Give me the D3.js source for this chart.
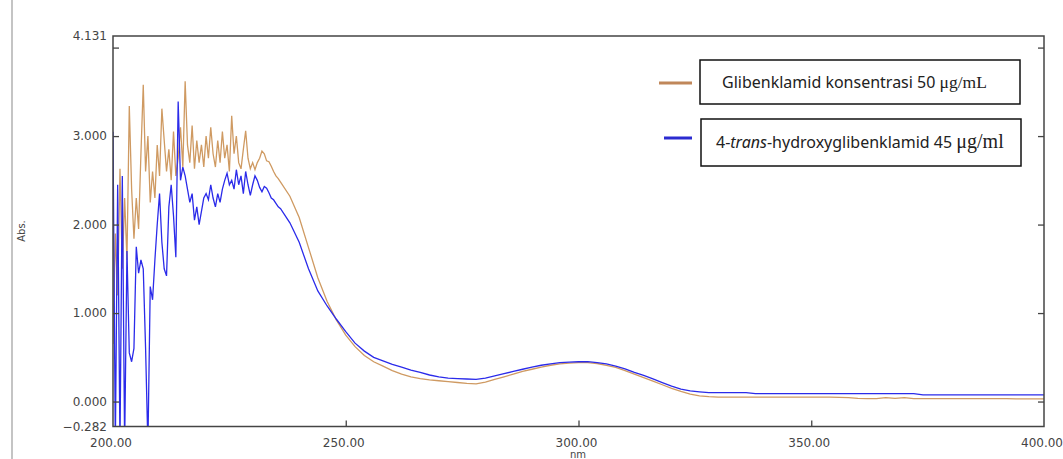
<!DOCTYPE html>
<html>
<head>
<meta charset="utf-8">
<script src="https://cdn.jsdelivr.net/npm/d3@7"></script>
<style>
  body { margin: 0; background: #fff; }
  svg { display: block; }
  .tick-label { font-family: 'DejaVu Sans', Verdana, sans-serif; font-size: 12px; fill: #444; }
  .legend-text { font-family: 'Noto Sans', 'Open Sans', sans-serif; font-size: 16px; fill: #222; }
  .legend-unit { font-family: 'Liberation Serif', 'DejaVu Serif', serif; }
</style>
</head>
<body>
<div id="chart"></div>
<script>
// scan grid: fine steps in the noisy UV end, coarse after
const nmFine = d3.range(200, 236, 0.5)
const nmCoarse = d3.range(236, 402, 2)

// Glibenklamid 50 µg/mL
const glibFine = [
  0.65, 1.9, 1.2, 2.63, 1.5, 2.3, 1.6, 3.34, 2.4, 1.84,
  2.3, 1.95, 2.8, 3.58, 2.6, 3.0, 2.25, 2.6, 2.3, 2.9,
  2.55, 3.31, 2.95, 2.6, 2.85, 2.5, 3.05, 2.55, 2.75, 3.1,
  2.65, 3.62, 2.9, 2.7, 3.12, 2.63, 2.95, 2.7, 2.9, 2.65,
  3.0, 2.75, 3.1, 2.8, 2.65, 2.95, 2.7, 3.05, 2.75, 2.9,
  2.6, 3.23, 2.8, 3.0, 2.7, 2.63, 2.85, 3.06, 2.75, 2.63,
  2.7, 2.62, 2.7, 2.75, 2.83, 2.8, 2.72, 2.71, 2.66, 2.6,
  2.55, 2.52
]
const glibCoarse = [
  2.48, 2.32, 2.08, 1.74, 1.40, 1.13, 0.92, 0.75, 0.62, 0.52,
  0.45, 0.40, 0.35, 0.31, 0.28, 0.26, 0.245, 0.235, 0.225, 0.215,
  0.205, 0.20, 0.22, 0.25, 0.28, 0.31, 0.34, 0.365, 0.39, 0.41,
  0.425, 0.435, 0.44, 0.44, 0.43, 0.41, 0.385, 0.35, 0.31, 0.27,
  0.23, 0.19, 0.15, 0.115, 0.085, 0.065, 0.055, 0.05, 0.05, 0.05,
  0.05, 0.05, 0.05, 0.05, 0.05, 0.05, 0.05, 0.05, 0.05, 0.05,
  0.048, 0.045, 0.035, 0.032, 0.032, 0.045, 0.035, 0.045, 0.032, 0.032,
  0.032, 0.032, 0.032, 0.032, 0.032, 0.032, 0.032, 0.032, 0.032, 0.03,
  0.03, 0.03, 0.03
]

// 4-trans-hydroxyglibenklamid 45 µg/ml
const hydroxyFine = [
  3.05, -0.5, 2.45, -0.5, 2.55, -0.5, 1.7, 0.55, 0.45, 0.6,
  1.75, 1.45, 1.6, 1.5, 0.6, -0.5, 1.3, 1.15, 1.6, 2.0,
  2.35, 1.8, 1.5, 1.42, 2.2, 2.45, 2.1, 1.63, 3.39, 2.5,
  2.65, 2.55, 2.4, 2.25, 2.35, 2.05, 2.2, 2.0, 2.15, 2.3,
  2.35, 2.28, 2.45, 2.3, 2.2, 2.35, 2.25, 2.4, 2.5, 2.58,
  2.45, 2.5, 2.4, 2.62, 2.45, 2.55, 2.35, 2.6, 2.45, 2.33,
  2.45, 2.55, 2.5, 2.42, 2.37, 2.43, 2.41, 2.36, 2.3, 2.28,
  2.24, 2.2
]
const hydroxyCoarse = [
  2.18, 2.02, 1.80, 1.50, 1.25, 1.08, 0.93, 0.79, 0.66, 0.57,
  0.50, 0.46, 0.42, 0.39, 0.355, 0.33, 0.30, 0.28, 0.265, 0.26,
  0.255, 0.25, 0.265, 0.29, 0.315, 0.34, 0.365, 0.39, 0.41, 0.425,
  0.44, 0.445, 0.45, 0.45, 0.44, 0.425, 0.40, 0.37, 0.33, 0.295,
  0.255, 0.215, 0.175, 0.14, 0.12, 0.11, 0.10, 0.10, 0.10, 0.10,
  0.10, 0.09, 0.09, 0.09, 0.09, 0.09, 0.09, 0.09, 0.09, 0.09,
  0.09, 0.09, 0.09, 0.09, 0.09, 0.09, 0.09, 0.09, 0.09, 0.076,
  0.076, 0.076, 0.076, 0.076, 0.076, 0.076, 0.076, 0.076, 0.076, 0.076,
  0.076, 0.076, 0.076
]

const xTicks = [200, 250, 300, 350, 400]
const yTicks = [0, 1, 2, 3, 4]
const yLabels = [-0.282, 0, 1, 2, 3, 4.131]

const width = 1063
const height = 459
const frame = { left: 113, right: 1044, top: 36, bottom: 426.5 }

const svg = d3
  .select('#chart')
  .append('svg')
  .attr('width', width)
  .attr('height', height)

const x = d3.scaleLinear().domain([200, 400]).range([frame.left, frame.right])
const y = d3.scaleLinear().domain([-0.282, 4.131]).range([frame.bottom, frame.top])

const toPoints = (nm, vals) => nm.map((w, i) => [w, vals[i]])
const glib = toPoints(nmFine, glibFine).concat(toPoints(nmCoarse, glibCoarse))
const hydroxy = toPoints(nmFine, hydroxyFine).concat(toPoints(nmCoarse, hydroxyCoarse))

// gray strip at the far left of the window
svg.append('line')
  .attr('x1', 12).attr('x2', 12)
  .attr('y1', 0).attr('y2', height)
  .attr('stroke', '#c4c4c4')
  .attr('stroke-width', 2)

svg.append('clipPath')
  .attr('id', 'plot-clip')
  .append('rect')
  .attr('x', frame.left)
  .attr('y', frame.top)
  .attr('width', frame.right - frame.left)
  .attr('height', frame.bottom - frame.top)

const line = d3.line()
  .x(d => x(d[0]))
  .y(d => y(d[1]))

const plot = svg.append('g').attr('clip-path', 'url(#plot-clip)')

plot.append('path')
  .datum(glib)
  .attr('d', line)
  .attr('fill', 'none')
  .attr('stroke', '#cf9a62')
  .attr('stroke-width', 1.3)

plot.append('path')
  .datum(hydroxy)
  .attr('d', line)
  .attr('fill', 'none')
  .attr('stroke', '#2b2bea')
  .attr('stroke-width', 1.3)

// frame
svg.append('rect')
  .attr('x', frame.left)
  .attr('y', frame.top)
  .attr('width', frame.right - frame.left)
  .attr('height', frame.bottom - frame.top)
  .attr('fill', 'none')
  .attr('stroke', '#444')
  .attr('stroke-width', 1.5)

// inward ticks, left and right
const yAxisLeft = d3.axisRight(y).tickValues(yTicks).tickSize(6).tickFormat('')
const yAxisRight = d3.axisLeft(y).tickValues(yTicks).tickSize(6).tickFormat('')
const xAxis = d3.axisTop(x).tickValues(xTicks.slice(1, -1)).tickSize(6).tickFormat('')

svg.append('g').attr('transform', `translate(${frame.left},0)`).call(yAxisLeft)
svg.append('g').attr('transform', `translate(${frame.right},0)`).call(yAxisRight)
svg.append('g').attr('transform', `translate(0,${frame.bottom})`).call(xAxis)
svg.selectAll('.domain').remove()
svg.selectAll('.tick line').attr('stroke', '#444').attr('stroke-width', 1.3)

svg.selectAll('.ylab')
  .data(yLabels)
  .enter()
  .append('text')
  .attr('class', 'tick-label')
  .attr('x', 107)
  .attr('y', d => y(d))
  .attr('dy', '0.35em')
  .attr('text-anchor', 'end')
  .text(d => d3.format('.3f')(d))

svg.selectAll('.xlab')
  .data(xTicks)
  .enter()
  .append('text')
  .attr('class', 'tick-label')
  .attr('x', d => x(d) - 2)
  .attr('y', 447)
  .attr('text-anchor', 'middle')
  .text(d => d3.format('.2f')(d))

svg.append('text')
  .attr('class', 'tick-label')
  .attr('x', 578)
  .attr('y', 458)
  .attr('text-anchor', 'middle')
  .style('font-size', '10px')
  .text('nm')

svg.append('text')
  .attr('class', 'tick-label')
  .attr('transform', 'translate(25,231) rotate(-90)')
  .attr('text-anchor', 'middle')
  .style('font-size', '10px')
  .text('Abs.')

// legend
const legend = svg.append('g')

legend.append('line')
  .attr('x1', 659).attr('x2', 692)
  .attr('y1', 83).attr('y2', 83)
  .attr('stroke', '#c0875a')
  .attr('stroke-width', 3)

legend.append('line')
  .attr('x1', 664).attr('x2', 692)
  .attr('y1', 138).attr('y2', 138)
  .attr('stroke', '#2b2bd0')
  .attr('stroke-width', 3)

legend.append('rect')
  .attr('x', 700).attr('y', 60)
  .attr('width', 320).attr('height', 44)
  .attr('fill', '#fff')
  .attr('stroke', '#111')
  .attr('stroke-width', 1.5)

legend.append('rect')
  .attr('x', 701).attr('y', 119)
  .attr('width', 320).attr('height', 47)
  .attr('fill', '#fff')
  .attr('stroke', '#111')
  .attr('stroke-width', 1.5)

const t1 = legend.append('text')
  .attr('class', 'legend-text')
  .attr('x', 722)
  .attr('y', 88)
t1.append('tspan').text('Glibenklamid konsentrasi 50 ')
t1.append('tspan').attr('class', 'legend-unit').style('font-size', '17.5px').text('μg/mL')

const t2 = legend.append('text')
  .attr('class', 'legend-text')
  .attr('x', 716)
  .attr('y', 148)
t2.append('tspan').text('4-')
t2.append('tspan').style('font-style', 'italic').text('trans')
t2.append('tspan').text('-hydroxyglibenklamid 45 ')
t2.append('tspan').attr('class', 'legend-unit').style('font-size', '20px').text('μg/ml')
</script>
</body>
</html>
